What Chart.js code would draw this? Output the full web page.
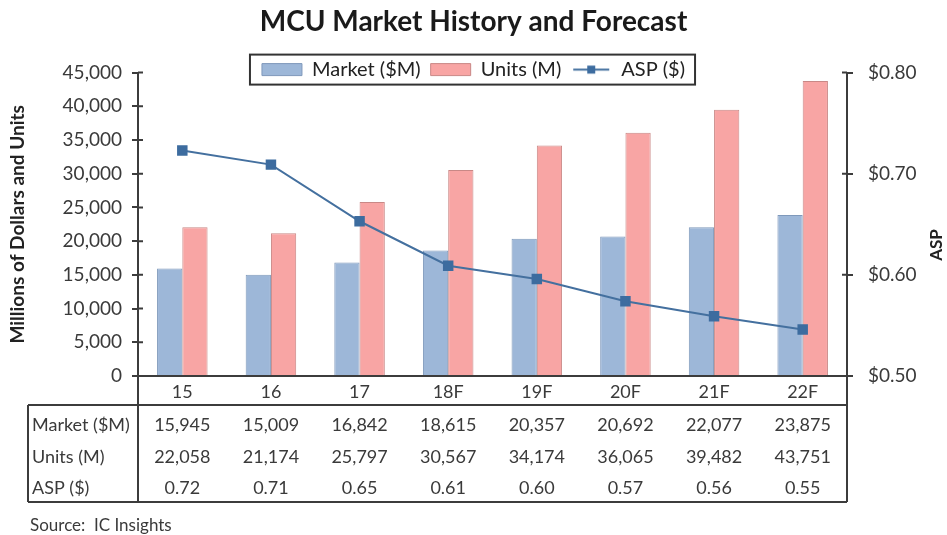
<!DOCTYPE html>
<html>
<head>
<meta charset="utf-8">
<title>MCU Market History and Forecast</title>
<script src="https://cdn.jsdelivr.net/npm/chart.js@4.4.1/dist/chart.umd.min.js"></script>
<style>
  html, body { margin: 0; padding: 0; background: #fff; }
  #wrap { width: 947px; height: 535px; }
</style>
</head>
<body>
<div id="wrap"><canvas id="mcu-chart" width="947" height="535"></canvas></div>
<script>
// Values
const years = ['15', '16', '17', '18F', '19F', '20F', '21F', '22F'];
const marketValues = [15945, 15009, 16842, 18615, 20357, 20692, 22077, 23875];
const unitValues = [22058, 21174, 25797, 30567, 34174, 36065, 39482, 43751];
const aspValues = [0.723, 0.709, 0.653, 0.609, 0.596, 0.574, 0.559, 0.546];
const leftTicks = [0, 5000, 10000, 15000, 20000, 25000, 30000, 35000, 40000, 45000];
const rightTicks = [0.5, 0.6, 0.7, 0.8];
const seriesNames = ['Market ($M)', 'Units (M)', 'ASP ($)'];

const FONT = 'Lato, "Liberation Sans", sans-serif';
const TEXT = '#3a3a3a';
const AXIS = '#3c3c3c';
const LINE_BLUE = '#44709f';

// Legend swatch for the ASP line: short line with a square marker
const aspSwatch = (() => {
  const c = document.createElement('canvas');
  c.width = 40;
  c.height = 13;
  const g = c.getContext('2d');
  g.strokeStyle = LINE_BLUE;
  g.lineWidth = 2;
  g.beginPath();
  g.moveTo(2, 6.5);
  g.lineTo(38, 6.5);
  g.stroke();
  g.fillStyle = '#3d6c9f';
  g.fillRect(16, 2.5, 8, 8);
  return c;
})();

// Box around the legend, as in the Excel original
const legendBoxPlugin = {
  id: 'legendBox',
  afterLayout(chart) {
    // let legend text hang below its layout slot without being clipped
    const lg = chart.legend;
    if (lg) {
      lg.bottom += 16;
      lg.height += 16;
    }
  },
  afterDraw(chart) {
    const boxes = chart.legend && chart.legend.legendHitBoxes;
    if (!boxes || !boxes.length) return;
    const first = boxes[0];
    const last = boxes[boxes.length - 1];
    const cy = first.top + first.height / 2;
    const ctx = chart.ctx;
    ctx.save();
    ctx.strokeStyle = '#333';
    ctx.lineWidth = 2;
    ctx.strokeRect(first.left - 12, cy - 15, last.left + last.width - first.left + 22, 30);
    ctx.restore();
  }
};

// Excel draws the value-axis tick marks across the axis line
const crossTicksPlugin = {
  id: 'crossTicks',
  afterDatasetsDraw(chart) {
    const { ctx, chartArea } = chart;
    ctx.save();
    ctx.strokeStyle = AXIS;
    ctx.lineWidth = 2;
    ctx.beginPath();
    chart.scales.y.ticks.forEach(t => {
      const py = chart.scales.y.getPixelForValue(t.value);
      ctx.moveTo(chartArea.left, py);
      ctx.lineTo(chartArea.left + 5, py);
    });
    chart.scales.y1.ticks.forEach(t => {
      const py = chart.scales.y1.getPixelForValue(t.value);
      ctx.moveTo(chartArea.right - 5, py);
      ctx.lineTo(chartArea.right, py);
    });
    ctx.stroke();
    ctx.restore();
  }
};

// Data table under the x axis plus the right axis title and source note
const dataTablePlugin = {
  id: 'dataTable',
  afterDraw(chart) {
    const { ctx, chartArea } = chart;
    const xScale = chart.scales.x;
    const base = chartArea.bottom;
    const top = base + 29;
    const bottom = base + 126;
    const left = 28;

    ctx.save();
    ctx.strokeStyle = AXIS;
    ctx.lineWidth = 2;
    ctx.beginPath();
    ctx.moveTo(chartArea.left, base);
    ctx.lineTo(chartArea.left, bottom);
    ctx.moveTo(chartArea.right, base);
    ctx.lineTo(chartArea.right, bottom);
    ctx.moveTo(left, top);
    ctx.lineTo(chartArea.right, top);
    ctx.moveTo(left, bottom);
    ctx.lineTo(chartArea.right, bottom);
    ctx.moveTo(left, top);
    ctx.lineTo(left, bottom);
    ctx.stroke();

    const rows = [
      { label: seriesNames[0], values: marketValues.map(v => v.toLocaleString('en-US')), dy: 49 },
      { label: seriesNames[1], values: unitValues.map(v => v.toLocaleString('en-US')), dy: 81 },
      { label: seriesNames[2], values: aspValues.map(v => v.toFixed(2)), dy: 112 }
    ];
    ctx.fillStyle = TEXT;
    ctx.font = '18px ' + FONT;
    ctx.textBaseline = 'middle';
    rows.forEach(row => {
      const y = base + row.dy;
      ctx.textAlign = 'left';
      ctx.fillText(row.label, left + 4, y);
      ctx.textAlign = 'center';
      row.values.forEach((txt, i) => {
        ctx.fillText(txt, xScale.getPixelForValue(i), y);
      });
    });

    // Source note
    ctx.textAlign = 'left';
    ctx.font = '17px ' + FONT;
    ctx.fillText('Source:  IC Insights', 30, base + 150);

    // Right axis title reads bottom-to-top
    ctx.font = 'bold 17px ' + FONT;
    ctx.fillStyle = '#222';
    ctx.translate(937, 245);
    ctx.rotate(-Math.PI / 2);
    ctx.textAlign = 'center';
    ctx.fillText('ASP', 0, 0);
    ctx.restore();
  }
};

document.addEventListener('DOMContentLoaded', () => {
  const ctx = document.getElementById('mcu-chart').getContext('2d');

  new Chart(ctx, {
    type: 'bar',
    data: {
      labels: years,
      datasets: [
        {
          label: seriesNames[0],
          data: marketValues,
          yAxisID: 'y',
          backgroundColor: '#9db7d8',
          borderColor: '#7f99bb',
          borderWidth: 1,
          pointStyle: 'rect',
          order: 1
        },
        {
          label: seriesNames[1],
          data: unitValues,
          yAxisID: 'y',
          backgroundColor: '#f8a5a4',
          borderColor: '#c98886',
          borderWidth: 1,
          pointStyle: 'rect',
          order: 1
        },
        {
          type: 'line',
          label: seriesNames[2],
          data: aspValues,
          yAxisID: 'y1',
          borderColor: LINE_BLUE,
          backgroundColor: LINE_BLUE,
          borderWidth: 2,
          pointStyle: 'rect',
          pointRadius: 6,
          pointBackgroundColor: '#3d6c9f',
          pointBorderColor: '#3d6c9f',
          tension: 0,
          order: 0
        }
      ]
    },
    options: {
      responsive: false,
      animation: false,
      devicePixelRatio: 1,
      layout: { padding: 0 },
      datasets: {
        bar: { categoryPercentage: 0.57, barPercentage: 1 }
      },
      plugins: {
        title: {
          display: true,
          text: 'MCU Market History and Forecast',
          color: '#1a1a1a',
          font: { family: FONT, size: 28, weight: 'bold' },
          padding: { top: 5, bottom: 11 }
        },
        legend: {
          display: true,
          position: 'top',
          maxHeight: 23,
          labels: {
            color: '#222',
            font: { family: FONT, size: 20 },
            usePointStyle: true,
            pointStyleWidth: 40,
            boxHeight: 12,
            padding: 10,
            generateLabels: (chart) => {
              const items = Chart.defaults.plugins.legend.labels.generateLabels(chart);
              items.sort((a, b) => a.datasetIndex - b.datasetIndex);
              items.forEach(item => {
                if (item.datasetIndex === 2) {
                  item.pointStyle = aspSwatch;
                  item.lineWidth = 0;
                }
              });
              return items;
            }
          }
        },
        tooltip: { enabled: false }
      },
      scales: {
        x: {
          grid: { display: false, drawTicks: false },
          border: { color: AXIS, width: 2 },
          ticks: { color: TEXT, font: { family: FONT, size: 18 }, padding: 5 },
          afterFit: (scale) => { scale.height = 159; }
        },
        y: {
          position: 'left',
          min: 0,
          max: 45000,
          grid: { drawOnChartArea: false, tickLength: 6, color: AXIS, lineWidth: 2 },
          border: { color: AXIS, width: 2 },
          afterBuildTicks: (scale) => { scale.ticks = leftTicks.map(v => ({ value: v })); },
          ticks: {
            color: TEXT,
            font: { family: FONT, size: 19 },
            padding: 10,
            callback: (v) => v.toLocaleString('en-US')
          },
          title: {
            display: true,
            text: 'Millions of Dollars and Units',
            color: '#222',
            font: { family: FONT, size: 19, weight: 'bold' },
            padding: { top: 6, bottom: 0 }
          },
          afterFit: (scale) => { scale.width = 138; }
        },
        y1: {
          position: 'right',
          min: 0.5,
          max: 0.8,
          grid: { drawOnChartArea: false, tickLength: 6, color: AXIS, lineWidth: 2 },
          border: { color: AXIS, width: 2 },
          afterBuildTicks: (scale) => { scale.ticks = rightTicks.map(v => ({ value: v })); },
          ticks: {
            color: TEXT,
            font: { family: FONT, size: 19 },
            padding: 15,
            callback: (v) => '$' + v.toFixed(2)
          },
          afterFit: (scale) => { scale.width = 100; }
        }
      }
    },
    plugins: [legendBoxPlugin, crossTicksPlugin, dataTablePlugin]
  });
});
</script>
</body>
</html>
